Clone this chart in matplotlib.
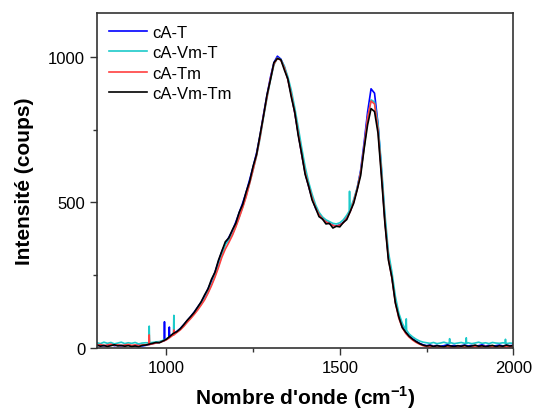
import numpy as np
import matplotlib.pyplot as plt

plt.rcParams['font.family'] = ['Liberation Sans', 'DejaVu Sans']
plt.rcParams['mathtext.fontset'] = 'custom'
plt.rcParams['mathtext.bf'] = 'Liberation Sans:bold'
plt.rcParams['mathtext.rm'] = 'Liberation Sans'

# raman shift grid (cm-1), one point every 10 cm-1
wavenumber = list(range(800, 2001, 10))

# intensities (counts)
cA_T = [8, 10, 7, 9, 12, 8, 10, 7, 9, 11, 6, 8, 10, 7, 9,
        12, 15, 18, 20, 25, 31, 40, 49, 57, 67, 80, 94, 108, 123, 140,
        157, 178, 203, 230, 260, 296, 332, 358, 380, 402, 432, 465, 498, 535, 578,
        622, 670, 730, 802, 868, 930, 980, 1002, 992, 965, 925, 872, 808, 738, 665,
        602, 555, 515, 480, 458, 443, 433, 427, 421, 419, 423, 431, 447, 470, 505,
        548, 610, 705, 810, 890, 875, 770, 610, 440, 315, 245, 162, 108, 75, 54,
        40, 31, 23, 16, 11, 8, 10, 7, 9, 6, 8, 11, 7, 9, 6,
        8, 10, 7, 9, 6, 8, 11, 7, 9, 6, 8, 10, 7, 9, 8,
        9]
cA_Vm_T = [18, 15, 20, 16, 19, 14, 17, 20, 15, 18, 16, 19, 14, 17, 18,
           18, 19, 21, 22, 26, 31, 38, 47, 55, 64, 76, 90, 104, 118, 135,
           150, 168, 192, 218, 248, 282, 318, 355, 370, 390, 418, 450, 485, 522, 566,
           612, 660, 720, 792, 858, 920, 972, 996, 990, 968, 932, 885, 825, 758, 688,
           622, 570, 528, 492, 466, 450, 440, 434, 428, 426, 430, 440, 456, 478, 510,
           550, 604, 688, 788, 852, 845, 770, 625, 460, 330, 262, 178, 120, 85, 62,
           48, 38, 30, 24, 20, 18, 16, 19, 15, 17, 20, 16, 18, 15, 17,
           19, 16, 18, 15, 17, 20, 16, 18, 15, 19, 17, 16, 18, 15, 17,
           16]
cA_Tm = [9, 12, 8, 10, 13, 9, 11, 8, 10, 12, 9, 11, 8, 10, 11,
         12, 14, 17, 19, 23, 28, 36, 45, 53, 62, 74, 88, 101, 115, 130,
         147, 165, 188, 214, 243, 276, 312, 340, 362, 386, 415, 448, 482, 520, 565,
         612, 662, 724, 797, 862, 925, 975, 995, 988, 962, 922, 870, 808, 738, 665,
         603, 556, 515, 482, 458, 443, 433, 427, 421, 418, 422, 430, 446, 468, 503,
         545, 602, 690, 790, 848, 838, 750, 598, 432, 308, 240, 156, 102, 70, 50,
         37, 27, 19, 13, 8, 5, 3, 6, 2, 4, 3, 5, 2, 4, 3,
         5, 3, 4, 2, 5, 3, 4, 6, 3, 5, 2, 4, 3, 5, 4,
         4]
cA_Vm_Tm = [10, 6, 9, 5, 8, 11, 7, 9, 6, 8, 5, 7, 4, 9, 10,
            13, 16, 19, 18, 24, 30, 40, 50, 56, 66, 80, 95, 108, 122, 140,
            158, 182, 203, 236, 260, 301, 333, 365, 378, 405, 428, 466, 493, 536, 572,
            624, 665, 732, 797, 869, 921, 980, 994, 990, 955, 924, 862, 810, 730, 667,
            596, 556, 508, 481, 451, 443, 426, 428, 412, 418, 416, 431, 441, 469, 497,
            543, 592, 684, 766, 822, 812, 738, 587, 428, 302, 243, 155, 107, 70, 54,
            40, 30, 22, 15, 10, 7, 9, 5, 8, 6, 4, 9, 7, 5, 8,
            6, 9, 5, 7, 10, 6, 8, 4, 7, 9, 5, 8, 6, 10, 7,
            8]

# narrow cosmic-ray spikes seen on some traces
spikes_cA_T_x = [993.5, 994.5, 995.5, 1007.5, 1008.5, 1009.5]
spikes_cA_T_y = [25, 90, 26, 36, 72, 37]
spikes_cA_Vm_T_x = [949.5, 950.5, 951.5, 1020.5, 1021.5, 1022.5, 1527, 1528, 1529,
                    1690.5, 1691.5, 1692.5, 1815.5, 1816.5, 1817.5,
                    1863.5, 1864.5, 1865.5, 1976.5, 1977.5, 1978.5]
spikes_cA_Vm_T_y = [18, 75, 18, 46, 112, 48, 470, 538, 478,
                    63, 100, 61, 17, 32, 17,
                    16, 35, 16, 17, 30, 17]
spikes_cA_Tm_x = [949.5, 950.5, 951.5, 1020.5, 1021.5, 1022.5]
spikes_cA_Tm_y = [12, 45, 12, 44, 62, 46]

labels = ['cA-T', 'cA-Vm-T', 'cA-Tm', 'cA-Vm-Tm']
colors = ['#0000ff', '#1ccaca', '#ff4040', '#000000']


def with_spikes(y, sx, sy):
    # merge the regular grid with the spike points, sorted by wavenumber
    x = np.concatenate([wavenumber, sx])
    v = np.concatenate([y, sy])
    order = np.argsort(x, kind='stable')
    return x[order], v[order]


series = [with_spikes(cA_T, spikes_cA_T_x, spikes_cA_T_y),
          with_spikes(cA_Vm_T, spikes_cA_Vm_T_x, spikes_cA_Vm_T_y),
          with_spikes(cA_Tm, spikes_cA_Tm_x, spikes_cA_Tm_y),
          with_spikes(cA_Vm_Tm, [], [])]

fig = plt.figure(figsize=(5.33, 4.14), dpi=100)
ax = fig.add_axes([0.182, 0.157, 0.781, 0.809])

for (x, y), lab, col in zip(series, labels, colors):
    ax.plot(x, y, color=col, lw=1.2, label=lab)

ax.set_xlim(800, 2000)
ax.set_ylim(0, 1150)
ax.set_xticks([1000, 1500, 2000])
ax.set_xticks([1250, 1750], minor=True)
ax.set_yticks([0, 500, 1000])
ax.set_yticks([250, 750], minor=True)
ax.tick_params(which='major', direction='out', length=5, width=1, labelsize=12, color='#333333')
ax.tick_params(which='minor', direction='out', length=3, width=1, color='#333333')
for s in ax.spines.values():
    s.set_color('#333333')
    s.set_linewidth(1.2)

ax.set_xlabel("Nombre d'onde (cm$^{\\mathbf{-1}}$)", fontsize=15, fontweight='bold', labelpad=6)
ax.set_ylabel('Intensité (coups)', fontsize=15, fontweight='bold', labelpad=10)

ax.legend(loc='upper left', frameon=False, fontsize=12, handlelength=2.3,
          handletextpad=0.3, labelspacing=0.33, borderpad=0.4, borderaxespad=0.3)

fig.savefig('out.png', dpi=100)
